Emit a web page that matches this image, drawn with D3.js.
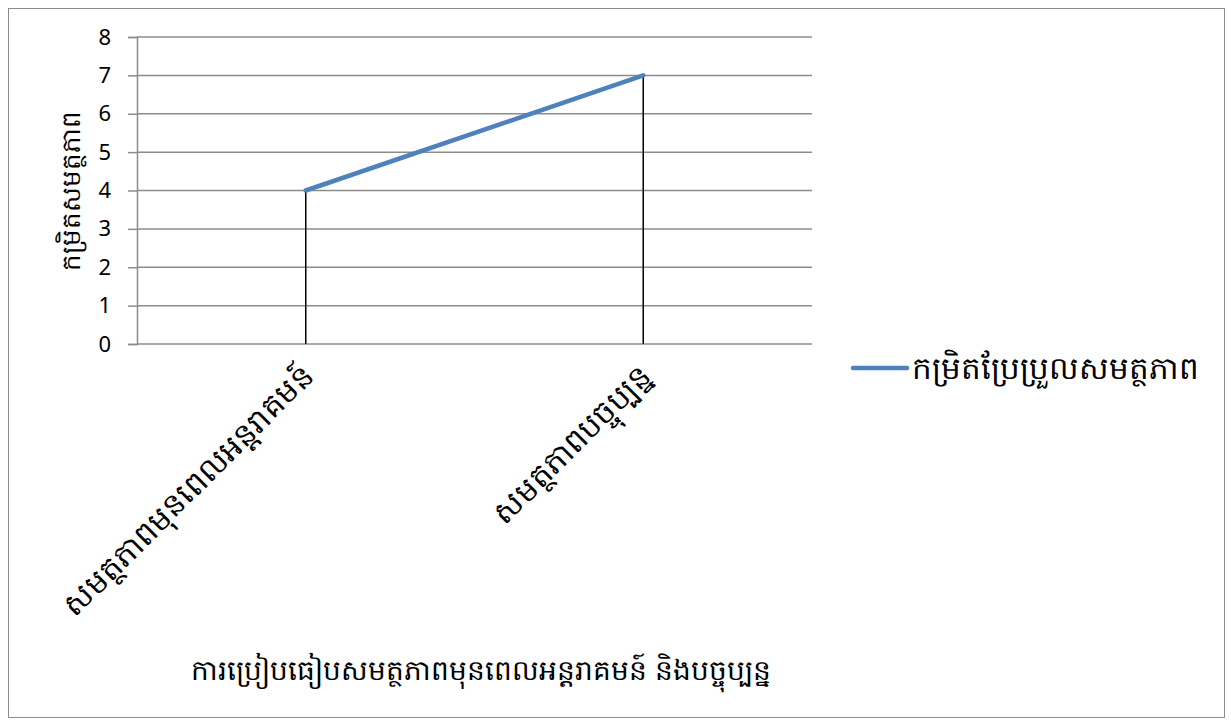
<!DOCTYPE html>
<html>
<head>
<meta charset="utf-8">
<script src="https://cdn.jsdelivr.net/npm/d3@7"></script>
<style>
  body { margin: 0; background: #fff; }
  text { font-family: "Noto Sans", "Open Sans", "DejaVu Sans", sans-serif; fill: #000; }
</style>
</head>
<body>
<div id="chart"></div>
<script>
////////////////////
// data
var categories = ["សមត្ថភាពមុនពេលអន្តរាគមន៍", "សមត្ថភាពបច្ចុប្បន្ន"];
var values = [4, 7];
var yTicks = [0, 1, 2, 3, 4, 5, 6, 7, 8];
var seriesName = "កម្រិតប្រែប្រួលសមត្ថភាព";
var yTitle = "កម្រិតសមត្ថភាព";
var xTitle = "ការប្រៀបធៀបសមត្ថភាពមុនពេលអន្តរាគមន៍ និងបច្ចុប្បន្ន";

var w = 1231, h = 724;
var plot = {left: 137, right: 812, top: 37, bottom: 344};

var svg = d3.select("#chart").append("svg")
  .attr("width", w)
  .attr("height", h);

// outer frame
svg.append("rect")
  .attr("x", 8.5).attr("y", 8.5)
  .attr("width", 1216).attr("height", 709)
  .attr("fill", "#fff")
  .attr("stroke", "#8c8c8c");

var x = d3.scaleBand()
  .domain(categories)
  .range([plot.left, plot.right]);
var y = d3.scaleLinear()
  .domain([0, 8])
  .range([plot.bottom, plot.top]);

// y axis
var yAxis = svg.append("g")
  .attr("transform", "translate(" + plot.left + ",0)")
  .call(d3.axisLeft(y).tickValues(yTicks).tickSize(9).tickPadding(17))
  .call(function(g) { g.select(".domain").attr("stroke", "#8c8c8c").attr("stroke-width", 1.5); });
yAxis.selectAll(".tick line").attr("stroke", "#8c8c8c").attr("stroke-width", 1.5);
yAxis.selectAll(".tick text").style("font-size", "22px");

// gridlines
svg.append("g").selectAll("line")
  .data(yTicks)
  .enter().append("line")
  .attr("x1", plot.left).attr("x2", plot.right)
  .attr("y1", function(d) { return y(d); })
  .attr("y2", function(d) { return y(d); })
  .attr("stroke", "#8c8c8c")
  .attr("stroke-width", 1.5);

// drop lines
var cx = function(d) { return x(d) + x.bandwidth() / 2; };
svg.append("g").selectAll("line")
  .data(categories)
  .enter().append("line")
  .attr("x1", cx).attr("x2", cx)
  .attr("y1", function(d, i) { return y(values[i]); })
  .attr("y2", y(0))
  .attr("stroke", "#000")
  .attr("stroke-width", 1.5);

// series line
var line = d3.line()
  .x(function(d, i) { return cx(categories[i]); })
  .y(function(d) { return y(d); });
svg.append("path")
  .datum(values)
  .attr("d", line)
  .attr("fill", "none")
  .attr("stroke", "#4f81bd")
  .attr("stroke-width", 4.5)
  .attr("stroke-linecap", "round");

// category labels
svg.append("g").selectAll("text")
  .data(categories)
  .enter().append("text")
  .attr("transform", function(d) { return "translate(" + (cx(d) + 10) + "," + (plot.bottom + 34) + ") rotate(-45)"; })
  .attr("text-anchor", "end")
  .style("font-size", "31px")
  .text(function(d) { return d; });

// axis titles
svg.append("text")
  .attr("transform", "translate(80," + ((plot.top + plot.bottom) / 2) + ") rotate(-90)")
  .attr("text-anchor", "middle")
  .style("font-size", "26px")
  .text(yTitle);

svg.append("text")
  .attr("x", 481).attr("y", 680)
  .attr("text-anchor", "middle")
  .style("font-size", "28px")
  .text(xTitle);

// legend
var lg = svg.append("g").attr("transform", "translate(853,368)");
lg.append("line")
  .attr("x1", 0).attr("x2", 54)
  .attr("stroke", "#4f81bd")
  .attr("stroke-width", 4.5)
  .attr("stroke-linecap", "round");
lg.append("text")
  .attr("x", 59).attr("y", 11)
  .style("font-size", "31px")
  .text(seriesName);
</script>
</body>
</html>
